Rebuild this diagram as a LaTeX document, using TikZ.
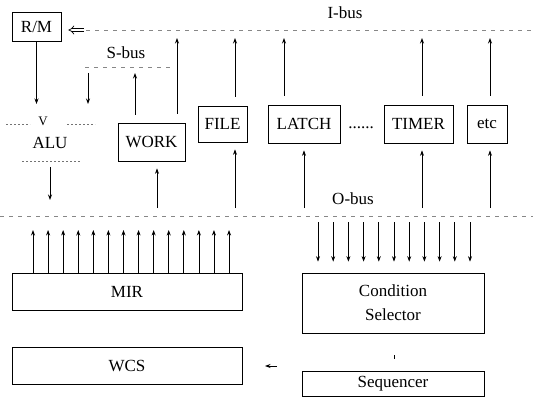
\documentclass[tikz,border=0pt]{standalone}
\usepackage{fontspec}
\setmainfont{Liberation Serif}
\usetikzlibrary{arrows.meta, positioning, calc}
\definecolor{cBus}{RGB}{135,135,135}
\tikzset{
	blk/.style    ={rectangle, draw=black, line width=0.7pt, inner sep=0pt, align=center},
	bus/.style    ={cBus, line width=0.9pt, dash pattern=on 4pt off 5pt},
	aluline/.style={black!55, line width=0.5pt, dash pattern=on 2pt off 2pt},
	sig/.style    ={-{Stealth[length=5.5pt, width=4pt]}, line width=0.7pt},
	lbl/.style    ={inner sep=0pt},
}

\begin{document}
\begin{tikzpicture}[x=1pt, y=-1pt, font=\fontsize{17}{24}\selectfont]
	\useasboundingbox (0,0) rectangle (533,412);
	% buses
	\coordinate (ibusL) at (86,30);  \coordinate (ibusR) at (533,30);
	\coordinate (sbusL) at (85,67);  \coordinate (sbusR) at (172,67);
	\coordinate (obusL) at (0,216);  \coordinate (obusR) at (533,216);
	\draw[bus] (ibusL) -- (ibusR);
	\draw[bus] (sbusL) -- (sbusR);
	\draw[bus] (obusL) -- (obusR);
	\node[lbl] (ibuslbl) at (345,13) {I-bus};
	\node[lbl] (sbuslbl) at (126,53) {S-bus};
	\node[lbl] (obuslbl) at (353,199) {O-bus};
	% blocks
	\node[blk, minimum width=49, minimum height=29] (rm) at (36.5,26.5) {R/M};
	\node[blk, minimum width=67, minimum height=38] (work) at (151.5,142) {WORK};
	\node[blk, minimum width=49, minimum height=36] (file) at (222.5,124) {FILE};
	\node[blk, minimum width=72, minimum height=38] (latch) at (304,124) {LATCH};
	\node[blk, minimum width=69, minimum height=38] (timer) at (418.5,124) {TIMER};
	\node[blk, minimum width=40, minimum height=38] (etc) at (487,124) {etc};
	\node[lbl] (dots) at (361,128) {......};
	\node[blk, minimum width=230, minimum height=37] (mir) at (127,291.5) {MIR};
	\node[blk, minimum width=230, minimum height=37] (wcs) at (127,365.5) {WCS};
	\node[blk, minimum width=182, minimum height=60] (cond) at (393,303) {Condition\\Selector};
	\node[blk, minimum width=182, minimum height=25] (seq) at (393,383.5) {Sequencer};
	% ALU
	\node[lbl] (alu) at (50,143) {ALU};
	\node[lbl, font=\fontsize{13}{15}\selectfont] (aluv) at (43,121) {V};
	\draw[aluline] (6,124) -- (30,124);
	\draw[aluline] (67,124) -- (95,124);
	\draw[aluline] (22,161) -- (80,161);
	\coordinate (aluinA) at (36.5,104);
	\coordinate (aluinB) at (88,104);
	\coordinate (aluout) at (50,200);
	\draw[sig] (rm.south) -- (aluinA);
	\draw[sig, shorten <=6pt] (aluinB |- sbusL) -- (aluinB);
	\draw[sig, shorten <=18pt] (alu.south) -- (aluout);
	% R/M fed from I-bus
	\draw[double, double distance=2.4pt, line width=0.7pt, -{Implies}, shorten >=7pt]
		([xshift=-2pt]ibusL) -- (rm.east |- ibusL);
	% WORK onto S-bus
	\draw[sig, shorten <=8pt, shorten >=6pt] (work.north -| 135,0) -- (sbusL -| 135,0);
	% blocks onto I-bus
	\foreach \n/\x in {work/177, file/235, latch/284, timer/422, etc/490} {
		\draw[sig, shorten <=9pt, shorten >=8pt] (\n.north -| \x,0) -- (ibusL -| \x,0);
	}
	% O-bus into blocks
	\foreach \n/\x in {work/157, file/235, latch/304, timer/422, etc/490} {
		\draw[sig, shorten <=8pt, shorten >=7pt] (obusL -| \x,0) -- (\n.south -| \x,0);
	}
	% MIR onto O-bus
	\foreach \i in {0,...,13} {
		\pgfmathsetmacro\xx{33+15.08*\i}
		\draw[sig, shorten >=14pt] (mir.north -| \xx,0) -- (obusL -| \xx,0);
	}
	% O-bus into condition selector
	\foreach \i in {0,...,10} {
		\pgfmathsetmacro\xx{318+15.2*\i}
		\draw[sig, shorten <=6pt, shorten >=11pt] (obusL -| \xx,0) -- (cond.north -| \xx,0);
	}
	\draw[line width=0.5pt] (cond.south) ++(1,22) -- ++(0,4);
	\coordinate (seqout) at (277,366);
	\coordinate (wcsin) at (265,366);
	\draw[sig] (seqout) -- (wcsin);
\end{tikzpicture}
\end{document}
